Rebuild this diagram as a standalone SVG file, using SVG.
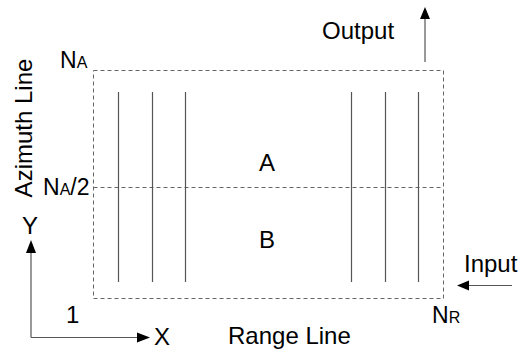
<svg xmlns="http://www.w3.org/2000/svg" width="520" height="351" viewBox="0 0 520 351">
<style>
text{font-family:"Liberation Sans",Arial,sans-serif;fill:#000;font-size:24px}
.n{font-size:23px}
.sub{font-size:16px}
.dash{fill:none;stroke:#666;stroke-width:1;stroke-dasharray:4,3}
.ln{stroke:#555;stroke-width:1.2;fill:none}
.head{fill:#000}
</style>
<rect width="520" height="351" fill="#fff"/>
<g id="frame">
<rect class="dash" x="93.5" y="70.5" width="350" height="228"/>
<line class="dash" x1="93.5" y1="187.5" x2="443.5" y2="187.5"/>
</g>
<g id="range-lines">
<line class="ln" x1="118.5" y1="92" x2="118.5" y2="282"/>
<line class="ln" x1="152.5" y1="92" x2="152.5" y2="282"/>
<line class="ln" x1="185.5" y1="92" x2="185.5" y2="282"/>
<line class="ln" x1="351.5" y1="92" x2="351.5" y2="282"/>
<line class="ln" x1="385.5" y1="92" x2="385.5" y2="282"/>
<line class="ln" x1="418.5" y1="92" x2="418.5" y2="282"/>
</g>
<g id="connectors">
<line class="ln" x1="425" y1="62" x2="425" y2="18"/>
<polygon class="head" points="425,7 420,19 430,19"/>
<line class="ln" x1="512" y1="285.5" x2="468" y2="285.5"/>
<polygon class="head" points="457,285.5 469,280.5 469,290.5"/>
<line class="ln" x1="31" y1="337.5" x2="31" y2="252"/>
<polygon class="head" points="31,240 26,253 36,253"/>
<line class="ln" x1="31" y1="337.5" x2="138" y2="337.5"/>
<polygon class="head" points="150,337.5 137,332.5 137,342.5"/>
</g>
<g id="labels">
<text x="322" y="39">Output</text>
<text x="267" y="171" text-anchor="middle">A</text>
<text x="267" y="248" text-anchor="middle">B</text>
<text x="228" y="344">Range Line</text>
<text x="464" y="272">Input</text>
<text class="n" x="432" y="323">N<tspan class="sub">R</tspan></text>
<text class="n" x="60" y="68">N<tspan class="sub">A</tspan></text>
<text class="n" x="43" y="195">N<tspan class="sub">A</tspan>/2</text>
<text x="30" y="234" text-anchor="middle">Y</text>
<text x="154" y="345">X</text>
<text x="66" y="323">1</text>
<text transform="translate(32,128) rotate(-90)" font-size="28" text-anchor="middle">Azimuth Line</text>
</g>
</svg>
